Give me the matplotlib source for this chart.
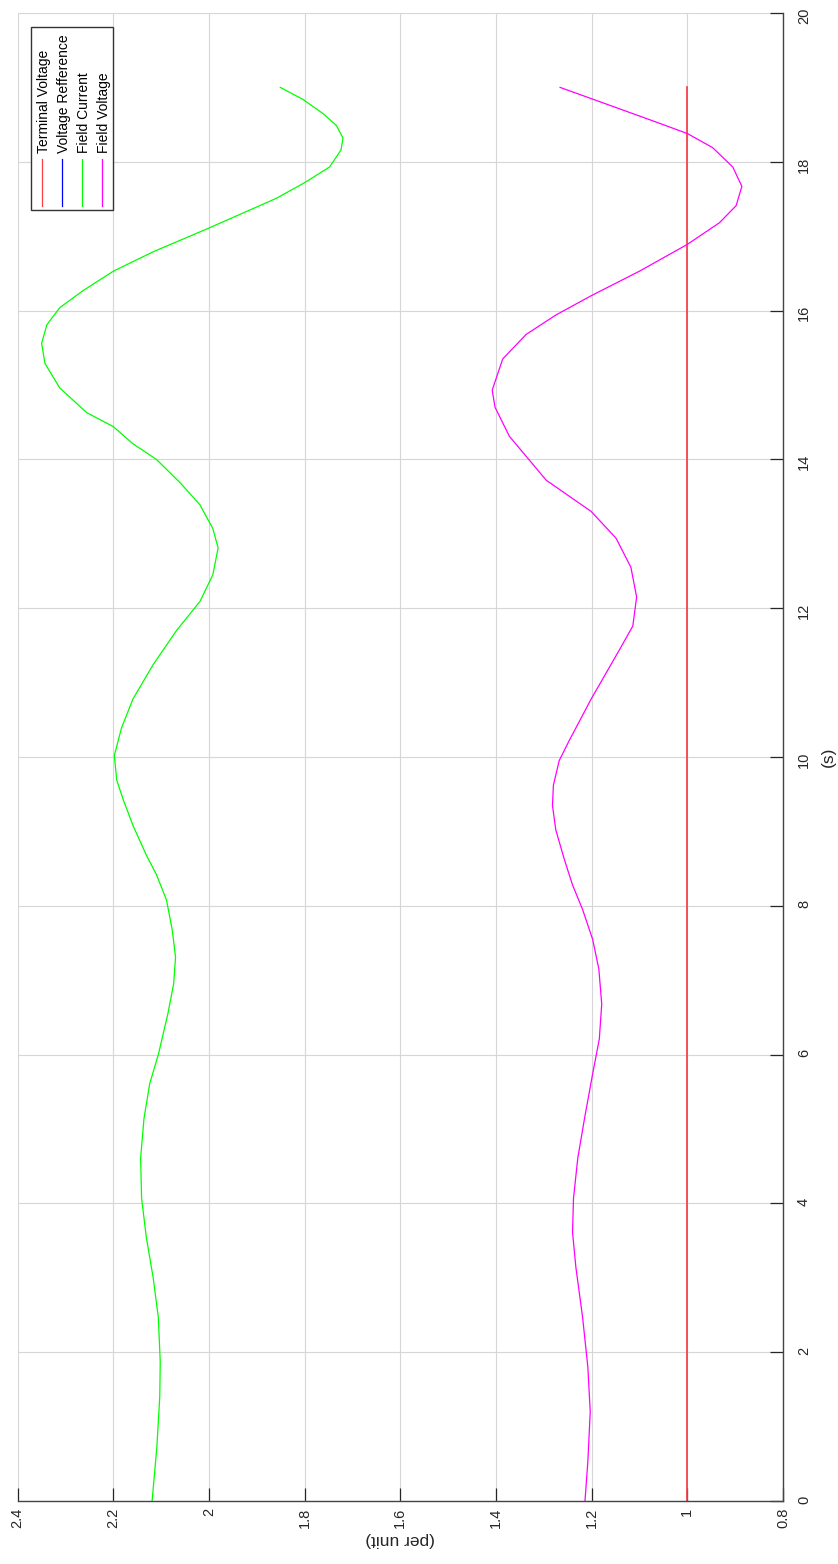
import numpy as np
import matplotlib
matplotlib.use("Agg")
import matplotlib.pyplot as plt
from matplotlib.patches import Rectangle

plt.rcParams["font.family"] = ["Liberation Sans", "DejaVu Sans"]

# excitation system response, per unit vs time (s)
t_field_current = [0.0, 0.73, 1.4, 1.87, 2.47, 3.01, 3.54, 4.07, 4.61, 5.14, 5.61, 6.0,
                   6.55, 6.95, 7.31, 7.68, 8.08, 8.42, 8.68, 9.08, 9.42, 9.69, 10.02,
                   10.39, 10.78, 11.24, 11.7, 12.09, 12.45, 12.81, 13.07, 13.39, 13.69,
                   14.0, 14.21, 14.44, 14.63, 14.96, 15.29, 15.56, 15.81, 16.04, 16.27,
                   16.53, 16.79, 17.11, 17.51, 17.72, 17.93, 18.16, 18.32, 18.49, 18.65,
                   18.84, 19.0]
field_current = [2.119, 2.109, 2.103, 2.102, 2.106, 2.117, 2.131, 2.141, 2.143, 2.136,
                 2.124, 2.106, 2.086, 2.074, 2.070, 2.077, 2.089, 2.110, 2.131, 2.159,
                 2.179, 2.193, 2.198, 2.183, 2.159, 2.117, 2.068, 2.019, 1.992, 1.981,
                 1.992, 2.019, 2.061, 2.110, 2.159, 2.2, 2.256, 2.312, 2.343, 2.35,
                 2.339, 2.312, 2.263, 2.2, 2.117, 2.0, 1.859, 1.80, 1.748, 1.724, 1.720,
                 1.734, 1.762, 1.804, 1.851]

t_field_voltage = [0.0, 0.53, 1.2, 1.8, 2.47, 3.14, 3.61, 4.07, 4.61, 5.14, 5.74, 6.21,
                   6.68, 7.15, 7.55, 7.95, 8.28, 8.62, 9.02, 9.35, 9.62, 9.95, 10.22,
                   10.78, 11.44, 11.76, 12.15, 12.55, 12.94, 13.3, 13.72, 14.31, 14.7,
                   14.93, 15.35, 15.68, 15.94, 16.2, 16.53, 16.89, 17.18, 17.41, 17.67,
                   17.93, 18.19, 18.38, 18.55, 18.81, 19.0]
field_voltage = [1.214, 1.208, 1.203, 1.208, 1.219, 1.233, 1.240, 1.238, 1.229, 1.215,
                 1.198, 1.184, 1.179, 1.185, 1.198, 1.219, 1.240, 1.257, 1.275, 1.282,
                 1.280, 1.268, 1.247, 1.201, 1.142, 1.114, 1.106, 1.118, 1.149, 1.201,
                 1.295, 1.372, 1.402, 1.408, 1.386, 1.337, 1.275, 1.201, 1.10, 1.0,
                 0.933, 0.898, 0.886, 0.905, 0.947, 1.0, 1.072, 1.184, 1.266]

t_terminal = [0.0, 19.0]
terminal_voltage = [1.0, 1.0]

t_reference = [0.0, 19.0]
voltage_reference = [1.0, 1.0]

labels = ["Terminal Voltage", "Voltage Refference", "Field Current", "Field Voltage"]
colors = ["#ff4040", "#0000ff", "#00ff00", "#ff00ff"]

xticks = [2.4, 2.2, 2.0, 1.8, 1.6, 1.4, 1.2, 1.0, 0.8]
xticklabels = ["2.4", "2.2", "2", "1.8", "1.6", "1.4", "1.2", "1", "0.8"]
yticks = list(range(0, 21, 2))

W, H = 838, 1564
fig = plt.figure(figsize=(W / 100, H / 100), dpi=100)
ax_l, ax_r, ax_t, ax_b = 17.7, 783.0, 13.0, 1501.0
ax = fig.add_axes([ax_l / W, 1 - ax_b / H, (ax_r - ax_l) / W, (ax_b - ax_t) / H])

# quantities on the horizontal axis, time running up the page;
# the reference trace sits underneath the terminal voltage
ax.plot(voltage_reference, t_reference, color=colors[1], lw=0.3)
ax.plot(terminal_voltage, t_terminal, color=colors[0], lw=1.2)
ax.plot(field_current, t_field_current, color=colors[2], lw=0.9)
ax.plot(field_voltage, t_field_voltage, color=colors[3], lw=0.9)

ax.set_xlim(2.4, 0.8)
ax.set_ylim(0, 20)
ax.set_xticks(xticks)
ax.set_xticklabels(xticklabels)
ax.set_yticks(yticks)
ax.yaxis.tick_right()
ax.yaxis.set_label_position("right")

ax.grid(True, color="#d6d6d6", lw=0.8)
ax.set_axisbelow(True)
for side in ("top", "left"):
    ax.spines[side].set_visible(False)
for side in ("right", "bottom"):
    ax.spines[side].set_color("#444444")
    ax.spines[side].set_linewidth(1.0)

ax.tick_params(axis="x", direction="in", length=9.5, width=0.9, color="#262626",
               labelcolor="#262626", labelsize=10.5, labelrotation=90, pad=5)
ax.tick_params(axis="y", direction="in", length=9.5, width=0.9, color="#262626",
               labelcolor="#262626", labelsize=10.5, labelrotation=90, pad=10)

ax.set_xlabel("(per unit)", rotation=180, fontsize=12.5, color="#262626", labelpad=3)
ax.set_ylabel("(s)", rotation=90, fontsize=12.5, color="#262626", labelpad=7)


def px(x, y):
    """pixel position on the page -> axes fraction"""
    return (x - ax_l) / (ax_r - ax_l), (ax_b - y) / (ax_b - ax_t)


# legend, entries stacked left to right with text running upward
bx0, by0 = px(31, 210)
bx1, by1 = px(113, 27)
ax.add_patch(Rectangle((bx0, by0), bx1 - bx0, by1 - by0, transform=ax.transAxes,
                       facecolor="white", edgecolor="#333333", lw=1.0, zorder=5,
                       clip_on=False))
for i, (lab, c) in enumerate(zip(labels, colors)):
    xc = 42 + i * 20
    x0, y0 = px(xc, 206)
    _, y1 = px(xc, 159)
    ax.plot([x0, x0], [y0, y1], color=c, lw=0.9, transform=ax.transAxes, zorder=6,
            clip_on=False)
    tx, ty = px(xc + 2, 153)
    ax.text(tx, ty, lab, rotation=90, ha="center", va="bottom", fontsize=10,
            color="black", transform=ax.transAxes, zorder=6)

fig.savefig("out.png", dpi=100)
